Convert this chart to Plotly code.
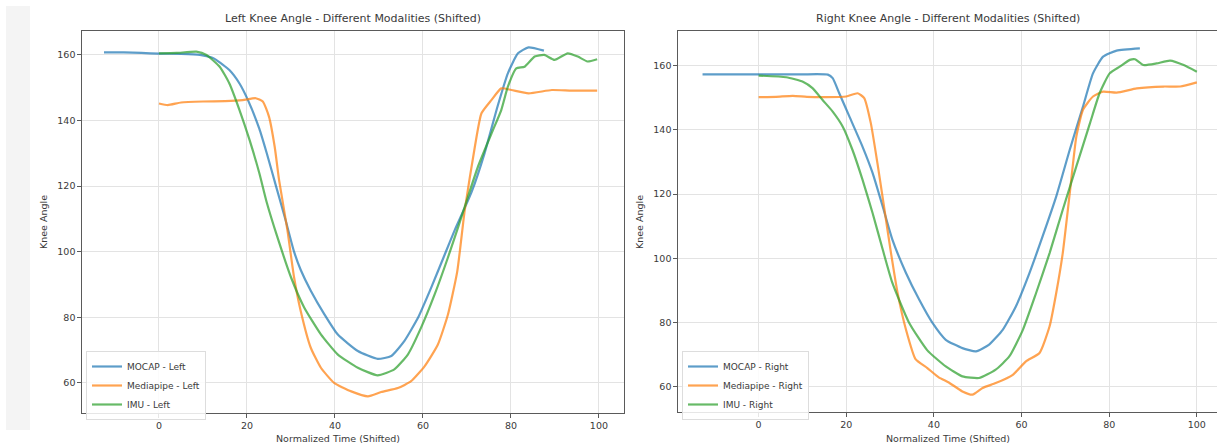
import plotly.graph_objects as go

# ---------------- data ----------------
left_mocap_x = [-12.5, -8, -4, 0, 5, 9.3, 12, 13, 16, 18.3, 20.2, 22.8, 24.5, 26.6, 28.8, 30.7,
                32.2, 34.5, 37.6, 40.6, 45.2, 49.7, 52.8, 55.8, 58.9, 61.9, 65, 67.2, 71, 74, 77,
                79.3, 81.6, 84, 87.5]
left_mocap_y = [160.8, 160.8, 160.6, 160.4, 160.3, 160.0, 159.2, 158.5, 155.4, 151.3, 146.3, 137.5,
                130, 120, 109.5, 100, 94.5, 88.1, 80.9, 74.8, 69.7, 67.3, 68.2, 72.8, 79.9, 89.1,
                99.3, 106.5, 118, 130, 144.5, 154.4, 160.5, 162.3, 161.3]

left_mp_x = [0, 2, 5, 10, 15, 19, 22, 23.6, 25, 26.3, 27.3, 29.2, 30.7, 32.2, 34.5, 36.8, 39.8,
             43.7, 47.5, 50.5, 54.3, 57.3, 60.4, 63.4, 65.7, 67.8, 69.5, 71.8, 73.3, 75.6, 77.8,
             80.1, 84, 89.3, 93.8, 99.6]
left_mp_y = [145.2, 144.7, 145.5, 145.8, 145.9, 146.2, 146.8, 145.8, 141.2, 132, 121.8, 106.5,
             92.2, 82, 70.7, 64.6, 60, 57.4, 55.9, 57.2, 58.4, 60.5, 65.1, 71.7, 80.9, 94,
             112.7, 132, 142.2, 146.3, 149.8, 149.3, 148.3, 149.3, 149.1, 149.1]

left_imu_x = [0, 4, 8.5, 10.8, 13.8, 16, 18.3, 20.6, 22.8, 24.5, 26.9, 30, 33, 36.8, 40.6, 45.2,
              49.7, 53.5, 56.6, 59.6, 62.7, 65.7, 68, 69.5, 72.5, 75.6, 77.8, 79.3, 81.2, 83.1,
              85.4, 87.6, 89.9, 92.9, 95.2, 97.4, 99.6]
left_imu_y = [160.5, 160.6, 161, 160, 156.4, 151.3, 143.2, 134, 124, 115, 104.5, 92.2, 83, 74.8,
              68.7, 64.6, 62.3, 64.1, 68.7, 76.9, 87.1, 98.3, 107.5, 113.7, 125.9, 136.1, 143.2,
              150.3, 155.9, 156.4, 159.5, 160, 158.5, 160.5, 159.5, 158, 158.7]

right_mocap_x = [-12.8, -5, 0, 5, 10, 15.8, 16.9, 18.4, 20.7, 23.7, 26, 28.3, 30.5, 33.6, 36.6, 39.6,
                 42.7, 46.5, 49.6, 52.6, 55.7, 58.7, 61.8, 64.8, 67.9, 71, 74, 76.3, 78.6, 81.7, 87]
right_mocap_y = [157.3, 157.3, 157.3, 157.3, 157.3, 157.2, 156.1, 151.4, 144.2, 134.8, 126.6, 116.2,
                 105.9, 95.5, 87.2, 80, 74.6, 72, 71, 73.1, 77.7, 85, 95.4, 106.8, 119.2, 133.8,
                 147.2, 157.6, 162.8, 164.7, 165.4]

right_mp_x = [0, 4, 7.8, 11, 15.4, 20, 22.6, 24.1, 25.6, 27.1, 28.6, 30.2, 31.7, 33.6, 35.8, 38.5,
              41.1, 43.4, 46.5, 48.8, 51.1, 54.1, 58, 61, 64.1, 66.4, 67.9, 69.4, 71, 72.5, 74,
              76.3, 78.6, 81.7, 86.3, 92.4, 96.2, 100]
right_mp_y = [150.2, 150.3, 150.6, 150.3, 150.2, 150.4, 151.4, 149.9, 142.1, 129.7, 116.2, 101.7,
              89.3, 77.9, 68.6, 65.8, 62.9, 61.3, 58.5, 57.5, 59.6, 61.1, 63.7, 67.9, 70.5, 78.8,
              89.1, 101.6, 120.3, 137.9, 146.2, 150.4, 151.9, 151.6, 152.9, 153.5, 153.5, 154.8]

right_imu_x = [0, 6.3, 10.1, 12.3, 14.6, 16.9, 19.2, 21.4, 23.7, 26, 28.3, 30.5, 34.3, 38.5, 42.7,
               46.5, 50.3, 54.1, 57.2, 60.3, 63.3, 66.4, 69.4, 72.5, 75.6, 77.8, 80.1, 82.4, 84.7,
               85.9, 87.8, 90.8, 93.9, 97, 100]
right_imu_y = [156.9, 156.4, 155, 153, 149.3, 145.7, 141, 133.8, 124.5, 114.1, 102.8, 92.4, 80,
               71.3, 66.3, 63.2, 62.7, 65.3, 69.4, 77.7, 89.1, 101.6, 115.1, 128.6, 142, 151.4,
               157.6, 159.7, 161.8, 162, 160.2, 160.7, 161.6, 160.2, 158.1]

x_ticks = [0, 20, 40, 60, 80, 100]
y_ticks = [60, 80, 100, 120, 140, 160]

titles = ["Left Knee Angle - Different Modalities (Shifted)",
          "Right Knee Angle - Different Modalities (Shifted)"]
x_label = "Normalized Time (Shifted)"
y_label = "Knee Angle"

# ---------------- figure ----------------
W, H = 1217, 447
BLUE = "rgba(31,119,180,0.72)"
ORANGE = "rgba(255,127,14,0.72)"
GREEN = "rgba(44,160,44,0.72)"
FONT = "DejaVu Sans"
TXT = "#3a3a3a"

fig = go.Figure()

def add(x, y, name, color, xa, ya, leg):
    fig.add_trace(go.Scatter(x=x, y=y, name=name, mode="lines",
                             line=dict(color=color, width=2.2, shape="spline", smoothing=0.5),
                             xaxis=xa, yaxis=ya, legend=leg))

add(left_mocap_x, left_mocap_y, "MOCAP - Left", BLUE, "x", "y", "legend")
add(left_mp_x, left_mp_y, "Mediapipe - Left", ORANGE, "x", "y", "legend")
add(left_imu_x, left_imu_y, "IMU - Left", GREEN, "x", "y", "legend")
add(right_mocap_x, right_mocap_y, "MOCAP - Right", BLUE, "x2", "y2", "legend2")
add(right_mp_x, right_mp_y, "Mediapipe - Right", ORANGE, "x2", "y2", "legend2")
add(right_imu_x, right_imu_y, "IMU - Right", GREEN, "x2", "y2", "legend2")

def px(v):
    return v / W

def py(v):
    return 1 - v / H

axis_common = dict(showgrid=True, gridcolor="#e3e3e3", gridwidth=1, zeroline=False,
                   showline=True, linecolor="#5a5a5a", linewidth=1.3,
                   ticks="outside", ticklen=3.5, tickcolor="#5a5a5a",
                   tickfont=dict(family=FONT, size=9.5, color=TXT))

leg_common = dict(xanchor="left", yanchor="top",
                  bgcolor="rgba(255,255,255,0.85)", bordercolor="#dddddd", borderwidth=1,
                  font=dict(family=FONT, size=9, color=TXT), itemwidth=30, tracegroupgap=0)

fig.update_layout(
    width=W, height=H,
    margin=dict(l=0, r=0, t=0, b=0),
    paper_bgcolor="white", plot_bgcolor="white",
    showlegend=True,
    xaxis=dict(domain=[px(82), px(624)], range=[-17.5, 105.7], tickvals=x_ticks,
               anchor="y", mirror=True, **axis_common),
    yaxis=dict(domain=[py(413), py(31)], range=[50.8, 167.3], tickvals=y_ticks,
               anchor="x", mirror=True, **axis_common),
    xaxis2=dict(domain=[px(678), 1.0], range=[-18.4, 104.6], tickvals=x_ticks,
                anchor="y2", mirror=True, **axis_common),
    yaxis2=dict(domain=[py(412), py(31)], range=[52.1, 170.8], tickvals=y_ticks,
                anchor="x2", mirror=False, **axis_common),
    legend=dict(x=px(86), y=py(351), **leg_common),
    legend2=dict(x=px(682), y=py(351), **leg_common),
)

# light grey strip at the far left of the page
fig.add_shape(type="rect", xref="paper", yref="paper", x0=px(6), x1=px(30), y0=py(430), y1=py(6),
              fillcolor="#f4f4f4", line=dict(width=0), layer="below")

ann_font = dict(family=FONT, size=11, color=TXT)
lab_font = dict(family=FONT, size=9.5, color=TXT)
annotations = [
    dict(text=titles[0], x=px(353), y=py(19), xref="paper", yref="paper", showarrow=False,
         font=ann_font, xanchor="center", yanchor="middle"),
    dict(text=titles[1], x=px(948), y=py(19), xref="paper", yref="paper", showarrow=False,
         font=ann_font, xanchor="center", yanchor="middle"),
    dict(text=x_label, x=px(338), y=py(438), xref="paper", yref="paper", showarrow=False,
         font=lab_font, xanchor="center", yanchor="middle"),
    dict(text=x_label, x=px(948), y=py(438), xref="paper", yref="paper", showarrow=False,
         font=lab_font, xanchor="center", yanchor="middle"),
    dict(text=y_label, x=px(44), y=py(222), xref="paper", yref="paper", showarrow=False,
         font=lab_font, textangle=-90, xanchor="center", yanchor="middle"),
    dict(text=y_label, x=px(640), y=py(222), xref="paper", yref="paper", showarrow=False,
         font=lab_font, textangle=-90, xanchor="center", yanchor="middle"),
]
fig.update_layout(annotations=annotations)

fig.write_html("out.html")
